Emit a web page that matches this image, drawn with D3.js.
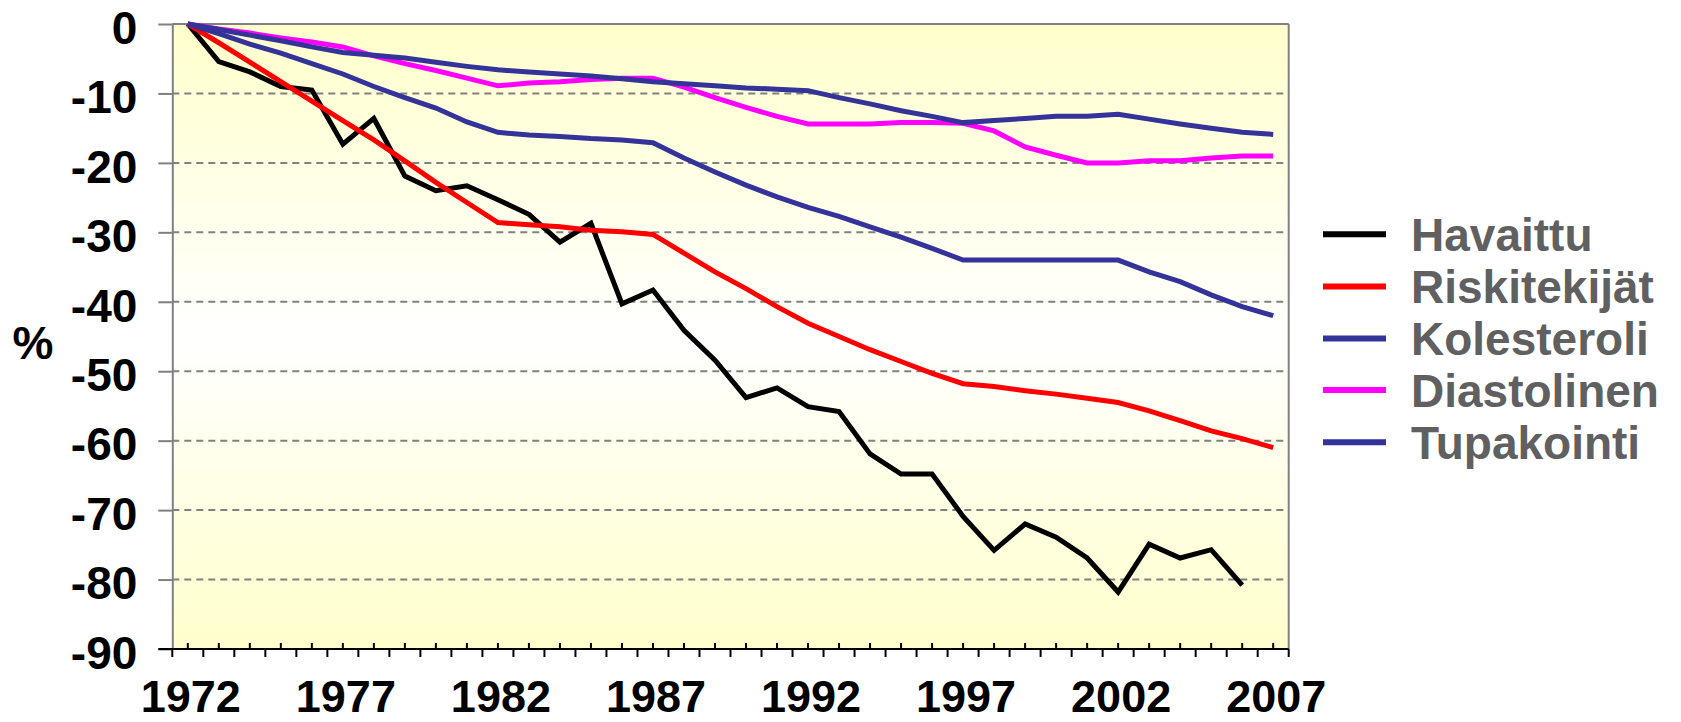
<!DOCTYPE html>
<html>
<head>
<meta charset="utf-8">
<script src="https://cdn.jsdelivr.net/npm/d3@7/dist/d3.min.js"></script>
<style>
  html, body { margin: 0; padding: 0; background: #ffffff; }
  svg { display: block; }
  text { font-family: "Liberation Sans", Arial, sans-serif; font-weight: bold; }
</style>
</head>
<body>
<svg id="chart" width="1681" height="722"></svg>
<script>
const years = ["1972","1973","1974","1975","1976","1977","1978","1979","1980","1981",
  "1982","1983","1984","1985","1986","1987","1988","1989","1990","1991",
  "1992","1993","1994","1995","1996","1997","1998","1999","2000","2001",
  "2002","2003","2004","2005","2006","2007"];
const xTickLabels = ["1972","1977","1982","1987","1992","1997","2002","2007"];
const yTicks = [0, -10, -20, -30, -40, -50, -60, -70, -80, -90];
const seriesNames = ["Havaittu", "Riskitekijät", "Kolesteroli", "Diastolinen", "Tupakointi"];
const seriesColors = ["#000000", "#ff0000", "#333399", "#ff00ff", "#333399"];

const havaittu = [0, -5.4, -6.9, -9.0, -9.5, -17.3, -13.6, -21.9, -24.0, -23.3,
  -25.3, -27.4, -31.4, -28.7, -40.3, -38.3, -44.1, -48.4, -53.8, -52.4,
  -55.1, -55.8, -61.9, -64.8, -64.8, -70.9, -75.8, -72.0, -73.9, -76.9,
  -81.8, -74.9, -76.9, -75.7, -80.8, null];
const riskitekijat = [0, -2.7, -5.5, -8.3, -11.1, -13.9, -16.7, -19.7, -22.8, -25.7,
  -28.6, -28.9, -29.2, -29.7, -29.9, -30.3, -33.0, -35.7, -38.1, -40.7,
  -43.1, -45.0, -46.9, -48.6, -50.3, -51.8, -52.2, -52.8, -53.3, -53.9,
  -54.5, -55.7, -57.1, -58.6, -59.7, -61.0];
const kolesteroli = [0, -1.4, -2.9, -4.2, -5.7, -7.2, -9.0, -10.6, -12.1, -14.1,
  -15.6, -16.0, -16.2, -16.5, -16.7, -17.1, -19.3, -21.3, -23.2, -24.9,
  -26.4, -27.7, -29.2, -30.7, -32.3, -34.0, -34.0, -34.0, -34.0, -34.0,
  -34.0, -35.7, -37.1, -39.0, -40.7, -42.0];
const diastolinen = [0, -0.7, -1.3, -2.0, -2.6, -3.3, -4.6, -5.7, -6.7, -7.8,
  -8.9, -8.5, -8.3, -8.0, -7.8, -7.8, -9.1, -10.6, -12.0, -13.3,
  -14.4, -14.4, -14.4, -14.2, -14.2, -14.3, -15.4, -17.7, -18.9, -20.0,
  -20.0, -19.7, -19.7, -19.3, -19.0, -19.0];
const tupakointi = [0, -0.8, -1.6, -2.4, -3.3, -4.1, -4.5, -4.9, -5.5, -6.1,
  -6.6, -6.9, -7.2, -7.5, -7.9, -8.3, -8.6, -8.9, -9.2, -9.4,
  -9.6, -10.6, -11.5, -12.5, -13.3, -14.2, -13.9, -13.6, -13.3, -13.3,
  -13.0, -13.7, -14.4, -15.0, -15.6, -15.9];
const seriesValues = [havaittu, riskitekijat, kolesteroli, diastolinen, tupakointi];

const svg = d3.select("#chart");
const plot = { left: 172.3, right: 1288.7, top: 24, bottom: 649 };

const x = d3.scaleBand().domain(years).range([plot.left, plot.right]).padding(0);
const xc = d => x(d) + x.bandwidth() / 2;
const y = d3.scaleLinear().domain([-90, 0]).range([plot.bottom, plot.top]);

// background gradient
const defs = svg.append("defs");
const grad = defs.append("linearGradient").attr("id", "bg").attr("x1", 0).attr("y1", 0).attr("x2", 0).attr("y2", 1);
grad.append("stop").attr("offset", "0%").attr("stop-color", "#ffffcc");
grad.append("stop").attr("offset", "50%").attr("stop-color", "#ffffff");
grad.append("stop").attr("offset", "100%").attr("stop-color", "#ffffcc");

svg.append("rect")
  .attr("x", plot.left).attr("y", plot.top)
  .attr("width", plot.right - plot.left).attr("height", plot.bottom - plot.top)
  .attr("fill", "url(#bg)");

// gridlines
svg.append("g").selectAll("line")
  .data(yTicks.filter(v => v !== 0 && v !== -90))
  .join("line")
  .attr("x1", plot.left).attr("x2", plot.right)
  .attr("y1", d => y(d)).attr("y2", d => y(d))
  .attr("stroke", "#808080").attr("stroke-width", 2)
  .attr("stroke-dasharray", "7,5");

// plot border top and right
svg.append("line").attr("x1", plot.left).attr("x2", plot.right)
  .attr("y1", plot.top).attr("y2", plot.top)
  .attr("stroke", "#808080").attr("stroke-width", 2);
svg.append("line").attr("x1", plot.right).attr("x2", plot.right)
  .attr("y1", plot.top).attr("y2", plot.bottom)
  .attr("stroke", "#808080").attr("stroke-width", 2);

// y axis
const yAxis = svg.append("g").attr("transform", `translate(${plot.left},0)`)
  .call(d3.axisLeft(y).tickValues(yTicks).tickSize(14).tickSizeOuter(0).tickFormat(d => String(d)));
yAxis.select(".domain").attr("stroke", "#808080").attr("stroke-width", 2);
yAxis.selectAll(".tick line").attr("stroke", "#808080").attr("stroke-width", 2);
yAxis.selectAll(".tick text")
  .attr("x", -35).attr("dy", "0.42em")
  .attr("font-size", 46).attr("fill", "#000")
  .style("font-family", '"Liberation Sans", Arial, sans-serif').style("font-weight", "bold");

// x axis: boundary ticks (down) and center ticks (up)
const xAxisG = svg.append("g");
xAxisG.append("line").attr("x1", plot.left - 14).attr("x2", plot.right)
  .attr("y1", plot.bottom).attr("y2", plot.bottom)
  .attr("stroke", "#000").attr("stroke-width", 2);
const boundaries = years.map(d => x(d)).concat([x(years[years.length - 1]) + x.bandwidth()]);
xAxisG.selectAll("line.b").data(boundaries).join("line").attr("class", "b")
  .attr("x1", d => d).attr("x2", d => d)
  .attr("y1", plot.bottom).attr("y2", plot.bottom + 8)
  .attr("stroke", "#000").attr("stroke-width", 2);
xAxisG.selectAll("line.c").data(years).join("line").attr("class", "c")
  .attr("x1", d => xc(d)).attr("x2", d => xc(d))
  .attr("y1", plot.bottom - 6).attr("y2", plot.bottom)
  .attr("stroke", "#000").attr("stroke-width", 2);
xAxisG.selectAll("text").data(xTickLabels).join("text")
  .attr("x", d => xc(d) + 3).attr("y", 712)
  .attr("text-anchor", "middle").attr("font-size", 45).attr("fill", "#000")
  .text(d => d);

// % label
svg.append("text").attr("x", 33).attr("y", 359)
  .attr("text-anchor", "middle").attr("font-size", 46).attr("fill", "#000")
  .text("%");

// lines
const line = d3.line()
  .defined(d => d.v !== null)
  .x(d => xc(d.year)).y(d => y(d.v));
seriesValues.forEach((vals, i) => {
  const pts = years.map((yr, j) => ({ year: yr, v: vals[j] }));
  svg.append("path").datum(pts)
    .attr("d", line)
    .attr("fill", "none")
    .attr("stroke", seriesColors[i])
    .attr("stroke-width", 5)
    .attr("stroke-linejoin", "miter");
});

// legend
const legendY = [234.3, 286.5, 338.5, 390, 442.3];
const lg = svg.append("g");
seriesNames.forEach((name, i) => {
  lg.append("line").attr("x1", 1323).attr("x2", 1386)
    .attr("y1", legendY[i]).attr("y2", legendY[i])
    .attr("stroke", seriesColors[i]).attr("stroke-width", 6);
  lg.append("text").attr("x", 1411).attr("y", legendY[i] + 16.5)
    .attr("font-size", 46).attr("fill", "#606060").text(name);
});
</script>
</body>
</html>
